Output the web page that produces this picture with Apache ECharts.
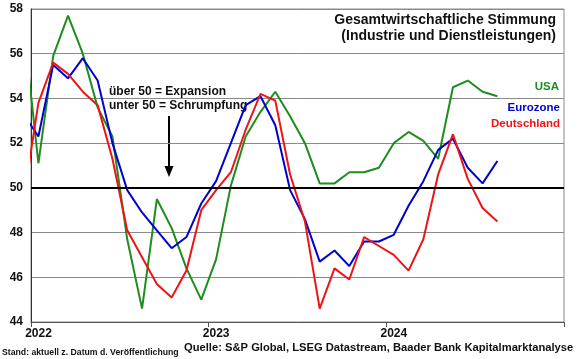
<!DOCTYPE html>
<html>
<head>
<meta charset="utf-8">
<script src="https://cdn.jsdelivr.net/npm/echarts@6/dist/echarts.min.js"></script>
<style>
html,body{margin:0;padding:0;background:#fff;}
#chart{width:580px;height:359px;}
</style>
</head>
<body>
<div id="chart"></div>
<script>
// Months: Dec 2021 (partly visible at left edge) .. Aug 2024
var months = ['2021-12',
  '2022-01','2022-02','2022-03','2022-04','2022-05','2022-06','2022-07','2022-08','2022-09','2022-10','2022-11','2022-12',
  '2023-01','2023-02','2023-03','2023-04','2023-05','2023-06','2023-07','2023-08','2023-09','2023-10','2023-11','2023-12',
  '2024-01','2024-02','2024-03','2024-04','2024-05','2024-06','2024-07','2024-08'];
var usa  = [57.2, 51.1, 55.9, 57.7, 56.0, 53.6, 52.3, 47.7, 44.6, 49.5, 48.2, 46.4, 45.0,
            46.8, 50.1, 52.3, 53.4, 54.3, 53.2, 52.0, 50.2, 50.2, 50.7, 50.7, 50.9,
            52.0, 52.5, 52.1, 51.3, 54.5, 54.8, 54.3, 54.1];
var euro = [53.3, 52.3, 55.5, 54.9, 55.8, 54.8, 52.0, 49.9, 48.9, 48.1, 47.3, 47.8, 49.3,
            50.3, 52.0, 53.7, 54.1, 52.8, 49.9, 48.6, 46.7, 47.2, 46.5, 47.6, 47.6,
            47.9, 49.2, 50.3, 51.7, 52.2, 50.9, 50.2, 51.2];
var ger  = [49.5, 53.8, 55.6, 55.1, 54.3, 53.7, 51.3, 48.1, 46.9, 45.7, 45.1, 46.3, 49.0,
            49.9, 50.7, 52.6, 54.2, 53.9, 50.6, 48.5, 44.6, 46.4, 45.9, 47.8, 47.4,
            47.0, 46.3, 47.7, 50.6, 52.4, 50.4, 49.1, 48.5];
var yearLabels = ['2022', '2023', '2024', ''];
var yTicks = [44, 46, 48, 50, 52, 54, 56, 58];
var threshold = 50;

var FONT = 'Liberation Sans, Arial, Helvetica, sans-serif';
var C_USA = '#1f8c1f', C_EU = '#0000d2', C_DE = '#ee1414';

function toXY(arr) {
  // month index -> position at middle of the month (Jan 2022 occupies [0,1])
  return arr.map(function (v, i) { return [i - 0.5, v]; });
}

var chart = echarts.init(document.getElementById('chart'), null, {renderer: 'canvas'});
chart.setOption({
  animation: false,
  backgroundColor: '#fff',
  grid: {left: 31, right: 16, top: 9, bottom: 37, show: true, borderColor: '#8a8a8a', borderWidth: 1, backgroundColor: 'transparent'},
  xAxis: {
    type: 'value', min: 0, max: 36, interval: 12,
    axisLine: {show: true, onZero: false, lineStyle: {color: '#555', width: 1}},
    axisTick: {show: true, length: 5, lineStyle: {color: '#555'}},
    splitLine: {show: false},
    axisLabel: {
      formatter: function (v) { return yearLabels[Math.round(v / 12)] || ''; },
      color: '#111', fontFamily: FONT, fontWeight: 'bold', fontSize: 12,
      margin: 6, padding: [0, 0, 0, 15]
    }
  },
  yAxis: {
    type: 'value', min: yTicks[0], max: yTicks[yTicks.length - 1], interval: 2,
    axisLine: {show: true, lineStyle: {color: '#333', width: 1}},
    axisTick: {show: false},
    splitLine: {show: true, lineStyle: {color: '#8a8a8a', width: 1}},
    axisLabel: {color: '#111', fontFamily: FONT, fontWeight: 'bold', fontSize: 12, margin: 8}
  },
  series: [
    {name: 'USA', type: 'line', data: toXY(usa), symbol: 'none', clip: true,
     lineStyle: {color: C_USA, width: 2}, itemStyle: {color: C_USA},
     markLine: {silent: true, symbol: 'none', label: {show: false},
       lineStyle: {color: '#000', width: 2, type: 'solid'}, data: [{yAxis: threshold}]}},
    {name: 'Eurozone', type: 'line', data: toXY(euro), symbol: 'none', clip: true,
     lineStyle: {color: C_EU, width: 2}, itemStyle: {color: C_EU}},
    {name: 'Deutschland', type: 'line', data: toXY(ger), symbol: 'none', clip: true,
     lineStyle: {color: C_DE, width: 2}, itemStyle: {color: C_DE}}
  ],
  graphic: [
    {type: 'text', right: 24, top: 13, style: {text: 'Gesamtwirtschaftliche Stimmung', fill: '#111', font: 'bold 14px ' + FONT}},
    {type: 'text', right: 24, top: 29, style: {text: '(Industrie und Dienstleistungen)', fill: '#111', font: 'bold 14px ' + FONT}},
    {type: 'text', right: 21, top: 81, style: {text: 'USA', fill: C_USA, font: 'bold 11.5px ' + FONT}},
    {type: 'text', right: 20, top: 102, style: {text: 'Eurozone', fill: C_EU, font: 'bold 11.5px ' + FONT}},
    {type: 'text', right: 20, top: 118, style: {text: 'Deutschland', fill: C_DE, font: 'bold 11.5px ' + FONT}},
    {type: 'text', left: 109, top: 86, style: {text: 'über 50 = Expansion', fill: '#111', font: 'bold 12px ' + FONT}},
    {type: 'text', left: 109, top: 100, style: {text: 'unter 50 = Schrumpfung', fill: '#111', font: 'bold 12px ' + FONT}},
    {type: 'line', shape: {x1: 169, y1: 116, x2: 169, y2: 168}, style: {stroke: '#000', lineWidth: 2}},
    {type: 'polygon', shape: {points: [[164.5, 166], [173.5, 166], [169, 177]]}, style: {fill: '#000'}},
    {type: 'text', left: 2, top: 348, style: {text: 'Stand: aktuell z. Datum d. Veröffentlichung', fill: '#111', font: 'bold 8.7px ' + FONT}},
    {type: 'text', left: 184, top: 342, style: {text: 'Quelle: S&P Global, LSEG Datastream, Baader Bank Kapitalmarktanalyse', fill: '#111', font: 'bold 11.2px ' + FONT}}
  ]
});
</script>
</body>
</html>
